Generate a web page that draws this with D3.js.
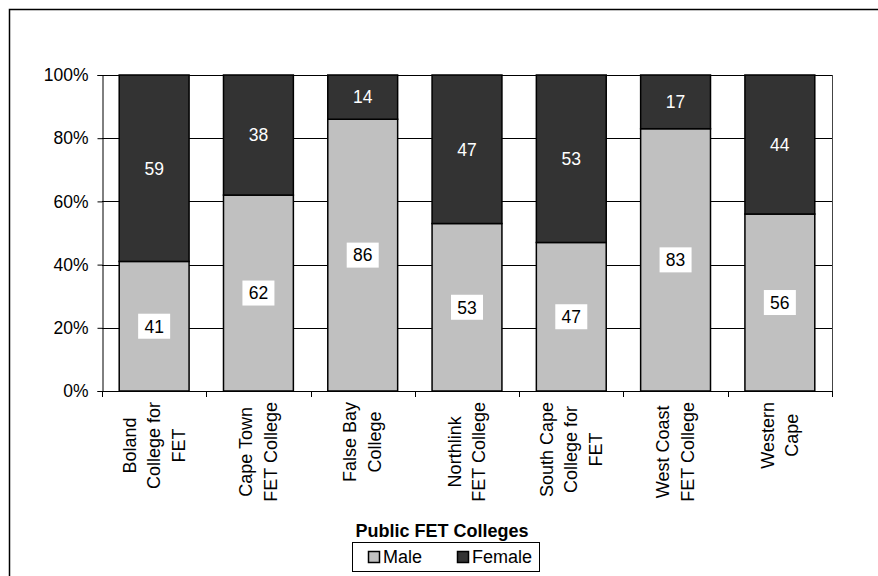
<!DOCTYPE html>
<html>
<head>
<meta charset="utf-8">
<script src="https://cdn.jsdelivr.net/npm/d3@7"></script>
<style>
  body { margin: 0; background: #fff; }
  svg { display: block; font-family: Arial, "Liberation Sans", sans-serif; }
</style>
</head>
<body>
<div id="chart-div"></div>
<script>
// chart values
var categories = ["Boland College for FET", "Cape Town FET College", "False Bay College",
    "Northlink FET College", "South Cape College for FET", "West Coast FET College", "Western Cape"];
var categoryLines = [
    ["Boland", "College for", "FET"],
    ["Cape Town", "FET College"],
    ["False Bay", "College"],
    ["Northlink", "FET College"],
    ["South Cape", "College for", "FET"],
    ["West Coast", "FET College"],
    ["Western", "Cape"]
];
var maleValues = [41, 62, 86, 53, 47, 83, 56];
var femaleValues = [59, 38, 14, 47, 53, 17, 44];
var yTicks = [0, 0.2, 0.4, 0.6, 0.8, 1];
var seriesNames = ["Male", "Female"];
var legendTitle = "Public FET Colleges";

var width = 878,
    height = 576;

var plotLeft = 102,
    plotRight = 832,
    plotTop = 75,
    plotBottom = 391;

var colors = { "Male": "#c0c0c0", "Female": "#333333" };

var svg = d3.select("#chart-div").append("svg")
    .attr("width", width)
    .attr("height", height);

// outer chart border (runs off the right and bottom of the picture)
svg.append("rect")
    .attr("x", 9.5)
    .attr("y", 9.5)
    .attr("width", 900)
    .attr("height", 620)
    .attr("fill", "#fff")
    .attr("stroke", "#000")
    .attr("stroke-width", 1.5);

var rows = categories.map(function(c, i) {
    var total = maleValues[i] + femaleValues[i];
    return { category: c, Male: maleValues[i] / total, Female: femaleValues[i] / total,
             maleRaw: maleValues[i], femaleRaw: femaleValues[i] };
});

var stacked = d3.stack().keys(seriesNames)(rows);

var xScale = d3.scaleBand()
    .domain(categories)
    .range([plotLeft, plotRight])
    .paddingInner(0.33)
    .paddingOuter(0.165);

var xBoundary = d3.scaleLinear()
    .domain([0, categories.length])
    .range([plotLeft, plotRight]);

var yScale = d3.scaleLinear()
    .domain([0, 1])
    .range([plotBottom, plotTop]);

// gridlines
svg.append("g")
    .selectAll("line")
    .data(yTicks.filter(function(d) { return d > 0; }))
    .enter()
    .append("line")
        .attr("x1", plotLeft)
        .attr("x2", plotRight)
        .attr("y1", function(d) { return Math.round(yScale(d)) + 0.5; })
        .attr("y2", function(d) { return Math.round(yScale(d)) + 0.5; })
        .attr("stroke", "#000")
        .attr("stroke-width", 1);

// plot area right edge
svg.append("line")
    .attr("x1", plotRight + 0.5)
    .attr("x2", plotRight + 0.5)
    .attr("y1", plotTop)
    .attr("y2", plotBottom)
    .attr("stroke", "#444")
    .attr("stroke-width", 1);

// bars
svg.append("g")
    .selectAll("g")
    .data(stacked)
    .enter()
    .append("g")
        .attr("fill", function(d) { return colors[d.key]; })
    .selectAll("rect")
    .data(function(d) { return d; })
    .enter()
    .append("rect")
        .attr("x", function(d) { return xScale(d.data.category); })
        .attr("y", function(d) { return yScale(d[1]); })
        .attr("width", xScale.bandwidth())
        .attr("height", function(d) { return yScale(d[0]) - yScale(d[1]); })
        .attr("stroke", "#000")
        .attr("stroke-width", 1.5);

// y axis
var yAxis = svg.append("g")
    .attr("transform", "translate(" + (plotLeft + 0.5) + ",0)")
    .call(d3.axisLeft(yScale)
        .tickValues(yTicks)
        .tickSize(5)
        .tickPadding(9)
        .tickFormat(d3.format(".0%")));
yAxis.select(".domain").attr("stroke", "#000");
yAxis.selectAll(".tick line").attr("stroke", "#000");
yAxis.selectAll("text")
    .attr("font-size", "17.5px")
    .attr("font-family", "Arial, 'Liberation Sans', sans-serif")
    .attr("fill", "#000");

// x axis line with category boundary ticks
svg.append("line")
    .attr("x1", plotLeft)
    .attr("x2", plotRight + 1)
    .attr("y1", plotBottom + 0.5)
    .attr("y2", plotBottom + 0.5)
    .attr("stroke", "#000");

svg.append("g")
    .selectAll("line")
    .data(d3.range(categories.length + 1))
    .enter()
    .append("line")
        .attr("x1", function(d) { return Math.round(xBoundary(d)) + 0.5; })
        .attr("x2", function(d) { return Math.round(xBoundary(d)) + 0.5; })
        .attr("y1", plotBottom)
        .attr("y2", plotBottom + 6)
        .attr("stroke", "#000");

// category labels, rotated, lines centred
var lineStep = 24.5,
    labelTop = 402;
categories.forEach(function(c, i) {
    var lines = categoryLines[i],
        cx = xScale(c) + xScale.bandwidth() / 2;
    var g = svg.append("g");
    var texts = g.selectAll("text")
        .data(lines)
        .enter()
        .append("text")
            .attr("text-anchor", "middle")
            .attr("font-size", "18px")
            .attr("fill", "#000")
            .text(function(d) { return d; });
    var maxLen = d3.max(texts.nodes(), function(n) { return n.getComputedTextLength(); });
    texts
        .attr("x", -maxLen / 2)
        .attr("y", function(d, j) { return (j - (lines.length - 1) / 2) * lineStep + 6; });
    g.attr("transform", "translate(" + cx + "," + labelTop + ") rotate(-90)");
});

// data labels
var maleLabels = svg.append("g")
    .selectAll("g")
    .data(stacked[0])
    .enter()
    .append("g")
        .attr("transform", function(d) {
            return "translate(" + (xScale(d.data.category) + xScale.bandwidth() / 2) + "," +
                yScale((d[0] + d[1]) / 2) + ")";
        });
maleLabels.append("rect")
    .attr("x", -16)
    .attr("y", -12.5)
    .attr("width", 32)
    .attr("height", 25)
    .attr("fill", "#fff");
maleLabels.append("text")
    .attr("text-anchor", "middle")
    .attr("dy", "0.36em")
    .attr("font-size", "17.5px")
    .attr("fill", "#000")
    .text(function(d) { return d.data.maleRaw; });

svg.append("g")
    .selectAll("text")
    .data(stacked[1])
    .enter()
    .append("text")
        .attr("x", function(d) { return xScale(d.data.category) + xScale.bandwidth() / 2; })
        .attr("y", function(d) { return yScale((d[0] + d[1]) / 2); })
        .attr("text-anchor", "middle")
        .attr("dy", "0.36em")
        .attr("font-size", "17.5px")
        .attr("fill", "#fff")
        .text(function(d) { return d.data.femaleRaw; });

// legend
var legendCx = 446;
svg.append("text")
    .attr("x", legendCx - 4)
    .attr("y", 537)
    .attr("text-anchor", "middle")
    .attr("font-size", "18px")
    .attr("font-weight", "bold")
    .attr("fill", "#000")
    .text(legendTitle);

svg.append("rect")
    .attr("x", 352.5)
    .attr("y", 542.5)
    .attr("width", 187)
    .attr("height", 29)
    .attr("fill", "#fff")
    .attr("stroke", "#000")
    .attr("stroke-width", 1);

var legendX = [368, 457];
var legendItems = svg.append("g")
    .selectAll("g")
    .data(seriesNames)
    .enter()
    .append("g")
        .attr("transform", function(d, i) { return "translate(" + legendX[i] + ",557)"; });
legendItems.append("rect")
    .attr("x", 0.5)
    .attr("y", -5.5)
    .attr("width", 11)
    .attr("height", 11)
    .attr("fill", function(d) { return colors[d]; })
    .attr("stroke", "#000")
    .attr("stroke-width", 1.5);
legendItems.append("text")
    .attr("x", 15)
    .attr("dy", "0.36em")
    .attr("font-size", "18px")
    .attr("fill", "#000")
    .text(function(d) { return d; });
</script>
</body>
</html>
